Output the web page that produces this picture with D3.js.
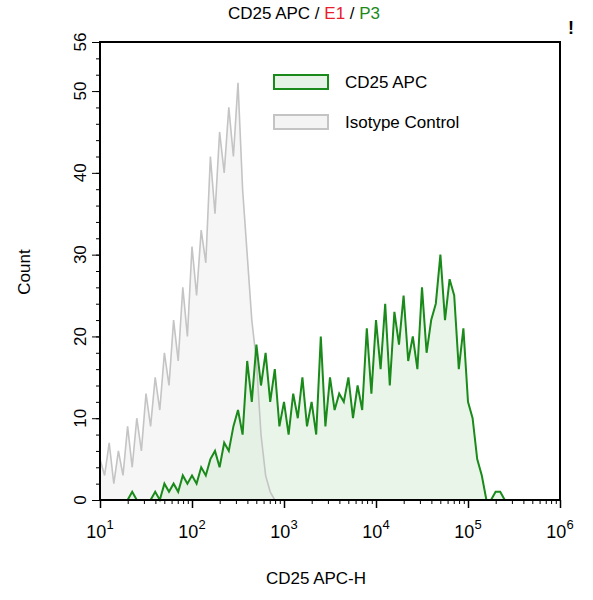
<!DOCTYPE html>
<html>
<head>
<meta charset="UTF-8">
<script src="https://d3js.org/d3.v7.min.js"></script>
<style>
  body { margin: 0; background: #fff; font-family: "Liberation Sans", Arial, sans-serif; }
</style>
</head>
<body>
<svg id="chart" width="593" height="600"></svg>
<script>
  // bins in log10 space, step 0.05
  const isoStart = 1.0;
  const isoCounts = [5,3,7,2,6,3,9,4,10,6,13,9,15,11,18,14,22,17,26,20,31,25,33,29,42,35,45,40,48,42,51,38,30,22,17,8,3,1,0];
  const cd25Start = 1.3;
  const cd25Counts = [0,1,0,0,0,0,1,0,2,1,2,1,3,2,3,2,4,3,5,6,4,7,6,9,11,8,17,12,19,14,18,12,16,9,12,8,13,10,15,9,12,8,20,9,15,11,13,12,15,10,14,11,21,13,22,16,24,14,23,19,25,17,20,16,26,18,22,24,30,22,27,25,16,21,12,10,5,3,0,0,1,1,0];
  const step = 0.05;
  const yTicks = [0, 10, 20, 30, 40, 50, 56];
  const xDecades = [1, 2, 3, 4, 5, 6];

  const svg = d3.select("#chart");
  const m = { left: 100, right: 560, top: 42, bottom: 500 };

  const x = d3.scaleLinear().domain([1, 6]).range([m.left, m.right]);
  const y = d3.scaleLinear().domain([0, 56]).range([m.bottom, m.top]);

  function toPoints(start, counts) {
    return counts.map((c, i) => [start + i * step, c]);
  }

  const area = d3.area().x(d => x(d[0])).y0(y(0)).y1(d => y(d[1]));
  const line = d3.line().x(d => x(d[0])).y(d => y(d[1]));

  const iso = toPoints(isoStart, isoCounts);
  const cd = toPoints(cd25Start, cd25Counts);

  svg.append("path").datum(iso).attr("d", area).attr("fill", "#f6f6f6");
  svg.append("path").datum(cd).attr("d", area).attr("fill", "#d8ecd8").attr("opacity", 0.55);
  svg.append("path").datum(iso).attr("d", line).attr("fill", "none").attr("stroke", "#c4c4c4").attr("stroke-width", 1.6);
  svg.append("path").datum(cd).attr("d", line).attr("fill", "none").attr("stroke", "#1a8a1a").attr("stroke-width", 2);

  // frame
  svg.append("rect").attr("x", m.left).attr("y", m.top)
    .attr("width", m.right - m.left).attr("height", m.bottom - m.top)
    .attr("fill", "none").attr("stroke", "#000").attr("stroke-width", 2);

  // y axis
  svg.append("g").attr("transform", `translate(${m.left},0)`)
    .call(d3.axisLeft(y).tickValues(d3.range(0, 57, 2)).tickSize(4).tickFormat(""))
    .call(g => g.select(".domain").remove());
  svg.append("g").attr("transform", `translate(${m.left},0)`)
    .call(d3.axisLeft(y).tickValues(yTicks).tickSize(8).tickFormat(""))
    .call(g => g.select(".domain").remove());
  yTicks.forEach(v => {
    svg.append("text").attr("transform", `translate(86,${y(v)}) rotate(-90)`)
      .attr("text-anchor", "middle").attr("font-size", 17).text(v);
  });

  // x axis (log decades with minor ticks)
  const minor = [];
  xDecades.slice(0, -1).forEach(d => { for (let k = 2; k <= 9; k++) minor.push(d + Math.log10(k)); });
  svg.append("g").attr("transform", `translate(0,${m.bottom})`)
    .call(d3.axisBottom(x).tickValues(minor).tickSize(4).tickFormat(""))
    .call(g => g.select(".domain").remove());
  svg.append("g").attr("transform", `translate(0,${m.bottom})`)
    .call(d3.axisBottom(x).tickValues(xDecades).tickSize(8).tickFormat(""))
    .call(g => g.select(".domain").remove())
    .selectAll("line").attr("stroke-width", 1.5);

  xDecades.forEach(d => {
    const t = svg.append("text").attr("x", x(d)).attr("y", 538)
      .attr("text-anchor", "middle").attr("font-size", 18).attr("fill", "#000");
    t.append("tspan").text("10");
    t.append("tspan").attr("dy", -9).attr("font-size", 13).text(d);
  });

  // labels
  svg.append("text").attr("x", 316).attr("y", 584).attr("text-anchor", "middle")
    .attr("font-size", 17).text("CD25 APC-H");
  svg.append("text").attr("transform", "translate(30,272) rotate(-90)").attr("text-anchor", "middle")
    .attr("font-size", 17).text("Count");

  const title = svg.append("text").attr("x", 304).attr("y", 19).attr("text-anchor", "middle").attr("font-size", 17);
  title.append("tspan").text("CD25 APC / ");
  title.append("tspan").attr("fill", "#e8202a").text("E1");
  title.append("tspan").text(" / ");
  title.append("tspan").attr("fill", "#1a8a1a").text("P3");
  svg.append("text").attr("x", 568).attr("y", 34).attr("font-size", 18).attr("font-weight", "bold").text("!");

  // legend
  const legend = [
    { name: "CD25 APC", stroke: "#1a8a1a", fill: "#e6f2e6", y: 82 },
    { name: "Isotype Control", stroke: "#c4c4c4", fill: "#f4f4f4", y: 122 }
  ];
  legend.forEach(l => {
    svg.append("rect").attr("x", 274).attr("y", l.y - 7).attr("width", 54).attr("height", 14)
      .attr("fill", l.fill).attr("stroke", l.stroke).attr("stroke-width", 2);
    svg.append("text").attr("x", 345).attr("y", l.y + 6).attr("font-size", 17).text(l.name);
  });
</script>
</body>
</html>
